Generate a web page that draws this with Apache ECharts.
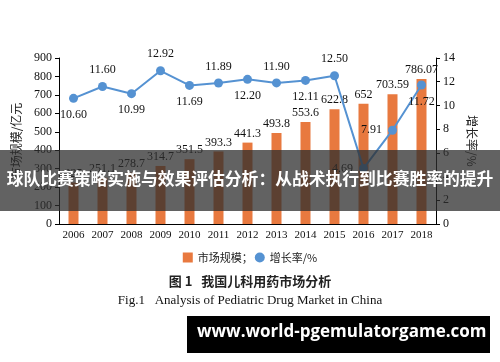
<!DOCTYPE html>
<html><head><meta charset="utf-8">
<script src="https://cdn.jsdelivr.net/npm/echarts@6/dist/echarts.min.js"></script>
<style>html,body{margin:0;padding:0;background:#fff}#c{width:500px;height:362px}</style>
</head><body><div id="c"></div>
<script>
const years = ['2006','2007','2008','2009','2010','2011','2012','2013','2014','2015','2016','2017','2018'];
const marketSize = [225, 251.1, 278.7, 314.7, 351.5, 393.3, 441.3, 493.8, 553.6, 622.8, 652, 703.59, 786.07];
const marketLabels = ['225','251.1','278.7','314.7','351.5','393.3','441.3','493.8','553.6','622.8','652','703.59','786.07'];
const growthRate = [10.60, 11.60, 10.99, 12.92, 11.69, 11.89, 12.20, 11.90, 12.11, 12.50, 4.69, 7.91, 11.72];
const growthLabelPos = ['bottom','top','bottom','top','bottom','top','bottom','top','bottom','top','left','left','bottom'];
const leftTicks = {min:0, max:900, interval:100};
const rightTicks = {min:0, max:14, interval:2};

const serif = 'Liberation Serif';
const chart = echarts.init(document.getElementById('c'));
chart.setOption({
  backgroundColor:'#fff',
  animation:false,
  title:[
    {text:'图 1   我国儿科用药市场分析', left:'center', top:270, textStyle:{fontFamily:'Noto Sans CJK SC', fontSize:13, fontWeight:'bold', color:'#222'}},
    {text:'Fig.1   Analysis of Pediatric Drug Market in China', left:'center', top:289, textStyle:{fontFamily:serif, fontSize:13, fontWeight:'normal', color:'#111'}}
  ],
  legend:{
    top:247, left:'center', itemWidth:10, itemHeight:10, itemGap:2,
    textStyle:{fontFamily:'Noto Sans CJK SC', fontSize:11, color:'#222'},
    data:[{name:'市场规模；', icon:'rect'},{name:'增长率/%', icon:'circle'}]
  },
  grid:{left:59, right:64, top:58, bottom:138},
  xAxis:{
    type:'category', data:years, boundaryGap:true,
    axisLine:{lineStyle:{color:'#000', width:1}},
    axisTick:{show:false},
    axisLabel:{interval:0, fontFamily:serif, fontSize:11, color:'#111', margin:6}
  },
  yAxis:[
    {type:'value', min:leftTicks.min, max:leftTicks.max, interval:leftTicks.interval,
     name:'市场规模/亿元', nameLocation:'middle', nameGap:37, nameRotate:90,
     nameTextStyle:{fontFamily:'Noto Sans CJK SC', fontSize:12, color:'#222'},
     axisLine:{show:true, lineStyle:{color:'#000'}}, axisTick:{show:true, length:4, lineStyle:{color:'#000'}},
     splitLine:{show:false},
     axisLabel:{fontFamily:serif, fontSize:12, color:'#111', margin:7}},
    {type:'value', min:rightTicks.min, max:rightTicks.max, interval:rightTicks.interval, position:'right',
     name:'增长率/%', nameLocation:'middle', nameGap:28, nameRotate:-90,
     nameTextStyle:{fontFamily:'Noto Sans CJK SC', fontSize:12, color:'#222'},
     axisLine:{show:true, lineStyle:{color:'#000'}}, axisTick:{show:true, length:4, lineStyle:{color:'#000'}},
     splitLine:{show:false},
     axisLabel:{fontFamily:serif, fontSize:12, color:'#111', margin:7}}
  ],
  series:[
    {name:'市场规模；', type:'bar', yAxisIndex:0, barWidth:10,
     itemStyle:{color:'#E8793F'},
     data:marketSize,
     label:{show:true, position:'top', distance:3, fontFamily:serif, fontSize:12, color:'#111',
       formatter:p=>marketLabels[p.dataIndex]}},
    {name:'增长率/%', type:'line', yAxisIndex:1, symbol:'circle', symbolSize:9,
     lineStyle:{color:'#5592D2', width:2}, itemStyle:{color:'#5592D2'},
     data:growthRate.map((v,i)=>({value:v, label:{position:growthLabelPos[i]}})),
     label:{show:true, distance:6, fontFamily:serif, fontSize:12, color:'#111',
       formatter:p=>growthRate[p.dataIndex].toFixed(2)}, z:5}
  ],
  graphic:[
    {type:'rect', left:0, top:150, shape:{width:500, height:61}, style:{fill:'rgba(45,45,45,0.75)'}, z:100},
    {type:'text', left:'center', top:170, style:{text:'球队比赛策略实施与效果评估分析：从战术执行到比赛胜率的提升', fill:'#fff', font:'bold 16.8px "Noto Sans CJK SC"'}, z:101},
    {type:'rect', left:187, top:316, shape:{width:303, height:37}, style:{fill:'#000'}, z:100},
    {type:'text', left:197, top:324, style:{text:'www.world-pgemulatorgame.com', fill:'#fff', font:'bold 17px "Open Sans"'}, z:101}
  ]
});
</script></body></html>
